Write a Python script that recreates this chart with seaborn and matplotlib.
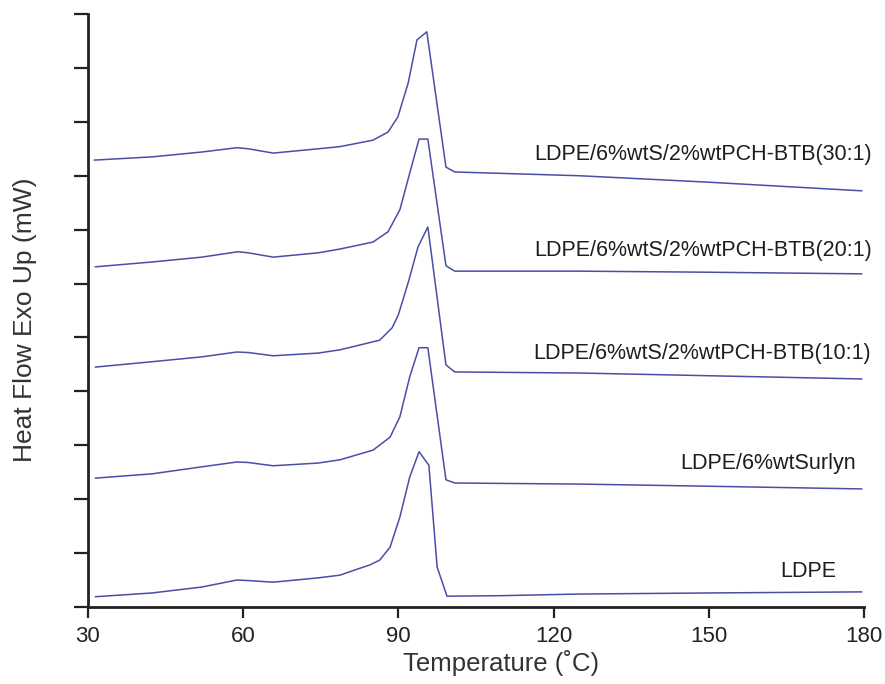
import matplotlib
matplotlib.use("Agg")
import matplotlib.pyplot as plt
import seaborn as sns
import pandas as pd

# DSC heating curves, vertically stacked (arbitrary heat-flow offsets)
ldpe_T = [31.4, 42.4, 52.0, 58.8, 61.0, 65.8, 74.5, 78.7, 82.0, 84.5, 86.4, 88.4, 90.3, 92.2, 94.0, 95.9, 97.5, 99.4, 110.0, 125.0, 150.0, 179.6]
ldpe_hf = [0.19, 0.26, 0.37, 0.50, 0.49, 0.46, 0.54, 0.59, 0.70, 0.78, 0.87, 1.11, 1.67, 2.41, 2.88, 2.63, 0.74, 0.20, 0.21, 0.24, 0.26, 0.28]

surlyn_T = [31.4, 42.4, 52.0, 58.8, 61.0, 65.8, 74.5, 78.7, 85.1, 88.4, 90.3, 92.2, 94.0, 95.7, 99.2, 100.9, 125.0, 150.0, 179.6]
surlyn_hf = [2.39, 2.47, 2.60, 2.69, 2.68, 2.62, 2.67, 2.73, 2.91, 3.15, 3.53, 4.27, 4.81, 4.81, 2.36, 2.30, 2.28, 2.24, 2.19]

btb10_T = [31.4, 42.4, 52.0, 58.8, 61.0, 65.8, 74.5, 78.7, 86.4, 88.8, 90.0, 92.0, 93.8, 95.7, 99.2, 100.9, 125.0, 150.0, 179.6]
btb10_hf = [4.45, 4.55, 4.64, 4.73, 4.72, 4.66, 4.71, 4.77, 4.95, 5.18, 5.42, 6.05, 6.68, 7.05, 4.49, 4.36, 4.34, 4.29, 4.23]

btb20_T = [31.4, 42.4, 52.0, 59.0, 61.0, 65.8, 74.5, 78.7, 85.1, 88.0, 90.3, 92.2, 94.0, 95.7, 99.2, 100.9, 125.0, 150.0, 179.6]
btb20_hf = [6.31, 6.40, 6.49, 6.59, 6.57, 6.49, 6.57, 6.64, 6.77, 6.96, 7.37, 8.05, 8.68, 8.68, 6.33, 6.23, 6.23, 6.21, 6.18]

btb30_T = [31.2, 42.4, 52.0, 58.8, 61.0, 65.8, 74.5, 78.7, 85.1, 88.0, 89.9, 91.9, 93.6, 95.5, 99.2, 100.9, 125.0, 150.0, 179.6]
btb30_hf = [8.29, 8.35, 8.44, 8.52, 8.50, 8.42, 8.50, 8.54, 8.66, 8.81, 9.09, 9.72, 10.52, 10.67, 8.16, 8.07, 8.00, 7.88, 7.72]

sample_names = ["LDPE", "LDPE/6%wtSurlyn", "LDPE/6%wtS/2%wtPCH-BTB(10:1)",
                "LDPE/6%wtS/2%wtPCH-BTB(20:1)", "LDPE/6%wtS/2%wtPCH-BTB(30:1)"]
label_x = [174.6, 178.5, 181.4, 181.6, 181.6]
label_y = [0.65, 2.67, 4.71, 6.62, 8.39]

x_ticks = [30, 60, 90, 120, 150, 180]

curves = [(ldpe_T, ldpe_hf), (surlyn_T, surlyn_hf), (btb10_T, btb10_hf),
          (btb20_T, btb20_hf), (btb30_T, btb30_hf)]

sns.set_style("ticks")
plt.rcParams["font.family"] = ["Liberation Sans", "DejaVu Sans"]

fig = plt.figure(figsize=(8.85, 6.84), dpi=100)
ax = fig.add_axes([0.0994, 0.1126, 0.8768, 0.8669])

line_color = "#4a4ea6"
for name, (t, hf) in zip(sample_names, curves):
    df = pd.DataFrame({"T": t, "hf": hf})
    sns.lineplot(data=df, x="T", y="hf", ax=ax, color=line_color,
                 linewidth=1.1, estimator=None, sort=False)

for name, lx, ly in zip(sample_names, label_x, label_y):
    ax.text(lx, ly, name, ha="right", va="center", fontsize=15.5,
            color="#1e1e1e", clip_on=False)

ax.set_xlim(30, 180)
ax.set_ylim(0, 11)
ax.set_xticks(x_ticks)
ax.set_yticks(range(0, 12))
ax.set_yticklabels([])
ax.tick_params(axis="x", direction="out", length=8, width=1.6,
               labelsize=16, colors="#222222", pad=6)
ax.tick_params(axis="y", direction="out", length=10, width=1.6, colors="#222222")
for side in ("left", "bottom"):
    ax.spines[side].set_linewidth(2.0)
    ax.spines[side].set_color("#222222")
ax.spines["top"].set_visible(False)
ax.spines["right"].set_visible(False)

ax.set_xlabel("Temperature (˚C)", fontsize=18.5, color="#333333")
ax.set_ylabel("Heat Flow Exo Up (mW)", fontsize=19, color="#333333")
ax.xaxis.set_label_coords(0.532, -0.072)
ax.yaxis.set_label_coords(-0.066, 0.484)

fig.savefig("out.png", dpi=100, facecolor="white")
